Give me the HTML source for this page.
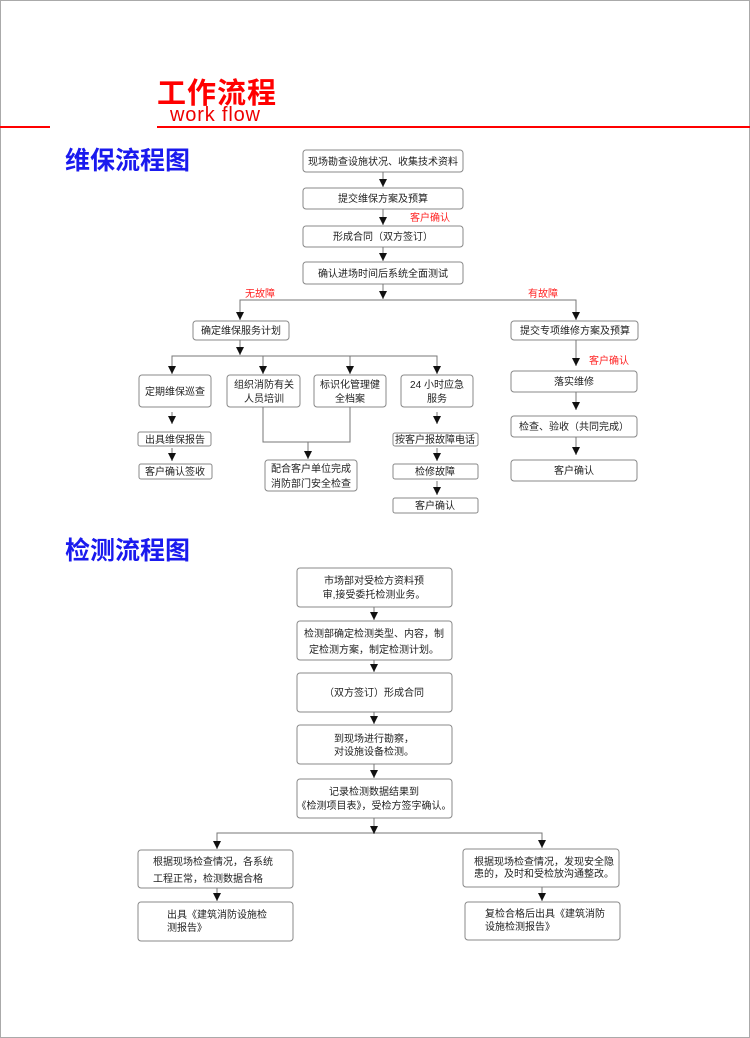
<!DOCTYPE html>
<html><head><meta charset="utf-8"><style>
html,body{margin:0;padding:0;background:#fff}
svg{display:block}
text{font-family:"Liberation Sans","Noto Sans CJK SC",sans-serif;font-size:10px;fill:#222}
.b{fill:#fff;stroke:#888;stroke-width:1}
.l{stroke:#777;stroke-width:1;fill:none}
.r{fill:#f22;font-size:10px}
</style></head><body>
<svg width="750" height="1038" viewBox="0 0 750 1038" xmlns="http://www.w3.org/2000/svg">
<defs><marker id="a" markerWidth="8" markerHeight="8" refX="8" refY="4" orient="auto" markerUnits="userSpaceOnUse"><path d="M0,0 L8,4 L0,8 z" fill="#111"/></marker></defs>
<rect x="0.5" y="0.5" width="749" height="1037" fill="none" stroke="#aaa"/>
<text x="157" y="103" textLength="119" style="font-size:29px;font-weight:bold;fill:#f00">工作流程</text>
<text x="170" y="121" textLength="90" style="font-size:20px;fill:#e00">work flow</text>
<line x1="0" y1="127" x2="50" y2="127" stroke="#f00" stroke-width="2"/>
<line x1="157" y1="127" x2="750" y2="127" stroke="#f00" stroke-width="2"/>
<text x="65" y="169" style="font-size:25px;font-weight:bold;fill:#1a1aee">维保流程图</text>
<text x="65" y="559" style="font-size:25px;font-weight:bold;fill:#1a1aee">检测流程图</text>

<g text-anchor="middle">
<rect class="b" x="303" y="150" width="160" height="22" rx="3"/><text x="383" y="165">现场勘查设施状况、收集技术资料</text>
<rect class="b" x="303" y="188" width="160" height="21" rx="3"/><text x="383" y="202">提交维保方案及预算</text>
<rect class="b" x="303" y="226" width="160" height="21" rx="3"/><text x="383" y="240">形成合同（双方签订）</text>
<rect class="b" x="303" y="262" width="160" height="22" rx="3"/><text x="383" y="277">确认进场时间后系统全面测试</text>
</g>
<text class="r" x="410" y="221">客户确认</text>
<text class="r" x="245" y="297">无故障</text>
<text class="r" x="528" y="297">有故障</text>
<g class="l" marker-end="url(#a)">
<line x1="383" y1="172" x2="383" y2="187"/>
<line x1="383" y1="209" x2="383" y2="225"/>
<line x1="383" y1="247" x2="383" y2="261"/>
<line x1="383" y1="284" x2="383" y2="299"/>
</g>
<polyline class="l" points="240,319 240,300 576,300 576,319"/>
<line x1="240" y1="310" x2="240" y2="320" class="l" marker-end="url(#a)"/>
<line x1="576" y1="310" x2="576" y2="320" class="l" marker-end="url(#a)"/>
<g text-anchor="middle">
<rect class="b" x="193" y="321" width="96" height="19" rx="3"/><text x="241" y="334">确定维保服务计划</text>
<rect class="b" x="511" y="321" width="127" height="19" rx="3"/><text x="575" y="334">提交专项维修方案及预算</text>
<rect class="b" x="139" y="375" width="72" height="32" rx="3"/><text x="175" y="395">定期维保巡查</text>
<rect class="b" x="227" y="375" width="73" height="32" rx="3"/><text x="264" y="388">组织消防有关</text><text x="264" y="402">人员培训</text>
<rect class="b" x="314" y="375" width="72" height="32" rx="3"/><text x="350" y="388">标识化管理健</text><text x="350" y="402">全档案</text>
<rect class="b" x="401" y="375" width="72" height="32" rx="3"/><text x="437" y="388">24 小时应急</text><text x="437" y="402">服务</text>
<rect class="b" x="138" y="432" width="73" height="14" rx="2"/><text x="175" y="443">出具维保报告</text>
<rect class="b" x="139" y="464" width="73" height="15" rx="2"/><text x="175" y="475">客户确认签收</text>
<rect class="b" x="265" y="460" width="92" height="31" rx="3"/><text x="311" y="472">配合客户单位完成</text><text x="311" y="487">消防部门安全检查</text>
<rect class="b" x="393" y="433" width="85" height="13" rx="2"/><text x="435" y="443">按客户报故障电话</text>
<rect class="b" x="393" y="464" width="85" height="15" rx="2"/><text x="435" y="475">检修故障</text>
<rect class="b" x="393" y="498" width="85" height="15" rx="2"/><text x="435" y="509">客户确认</text>
<rect class="b" x="511" y="371" width="126" height="21" rx="3"/><text x="574" y="385">落实维修</text>
<rect class="b" x="511" y="416" width="126" height="21" rx="3"/><text x="574" y="430">检查、验收（共同完成）</text>
<rect class="b" x="511" y="460" width="126" height="21" rx="3"/><text x="574" y="474">客户确认</text>
</g>
<text class="r" x="589" y="364">客户确认</text>
<polyline class="l" points="172,372 172,356 437,356 437,372"/>
<g class="l" marker-end="url(#a)">
<line x1="240" y1="340" x2="240" y2="355"/>
<line x1="172" y1="362" x2="172" y2="374"/>
<line x1="263" y1="356" x2="263" y2="374"/>
<line x1="350" y1="356" x2="350" y2="374"/>
<line x1="437" y1="362" x2="437" y2="374"/>
<line x1="172" y1="412" x2="172" y2="424"/>
<line x1="172" y1="448" x2="172" y2="461"/>
<line x1="308" y1="442" x2="308" y2="459"/>
<line x1="437" y1="412" x2="437" y2="424"/>
<line x1="437" y1="448" x2="437" y2="461"/>
<line x1="437" y1="481" x2="437" y2="495"/>
<line x1="576" y1="340" x2="576" y2="366"/>
<line x1="576" y1="392" x2="576" y2="410"/>
<line x1="576" y1="437" x2="576" y2="455"/>
</g>
<polyline class="l" points="263,407 263,442 350,442 350,407"/>

<g text-anchor="middle">
<rect class="b" x="297" y="568" width="155" height="39" rx="3"/><text x="374" y="584">市场部对受检方资料预</text><text x="374" y="598">审,接受委托检测业务。</text>
<rect class="b" x="297" y="621" width="155" height="39" rx="3"/><text x="374" y="637">检测部确定检测类型、内容，制</text><text x="374" y="653">定检测方案，制定检测计划。</text>
<rect class="b" x="297" y="673" width="155" height="39" rx="3"/><text x="374" y="696">（双方签订）形成合同</text>
<rect class="b" x="297" y="725" width="155" height="39" rx="3"/><text x="374" y="742">到现场进行勘察，</text><text x="374" y="755">对设施设备检测。</text>
<rect class="b" x="297" y="779" width="155" height="39" rx="3"/><text x="374" y="795">记录检测数据结果到</text><text x="374" y="809">《检测项目表》，受检方签字确认。</text>
</g>
<g text-anchor="start">
<rect class="b" x="138" y="850" width="155" height="38" rx="3"/><text x="153" y="865">根据现场检查情况，各系统</text><text x="153" y="882">工程正常，检测数据合格</text>
<rect class="b" x="138" y="902" width="155" height="39" rx="3"/><text x="167" y="918">出具《建筑消防设施检</text><text x="167" y="931">测报告》</text>
<rect class="b" x="463" y="849" width="156" height="38" rx="3"/><text x="474" y="865">根据现场检查情况，发现安全隐</text><text x="474" y="877">患的，及时和受检放沟通整改。</text>
<rect class="b" x="465" y="902" width="155" height="38" rx="3"/><text x="485" y="917">复检合格后出具《建筑消防</text><text x="485" y="930">设施检测报告》</text>
</g>
<polyline class="l" points="217,846 217,833 542,833 542,846"/>
<g class="l" marker-end="url(#a)">
<line x1="374" y1="607" x2="374" y2="620"/>
<line x1="374" y1="660" x2="374" y2="672"/>
<line x1="374" y1="712" x2="374" y2="724"/>
<line x1="374" y1="764" x2="374" y2="778"/>
<line x1="374" y1="818" x2="374" y2="834"/>
<line x1="217" y1="840" x2="217" y2="849"/>
<line x1="542" y1="840" x2="542" y2="848"/>
<line x1="217" y1="888" x2="217" y2="901"/>
<line x1="542" y1="887" x2="542" y2="901"/>
</g>
</svg>
</body></html>
